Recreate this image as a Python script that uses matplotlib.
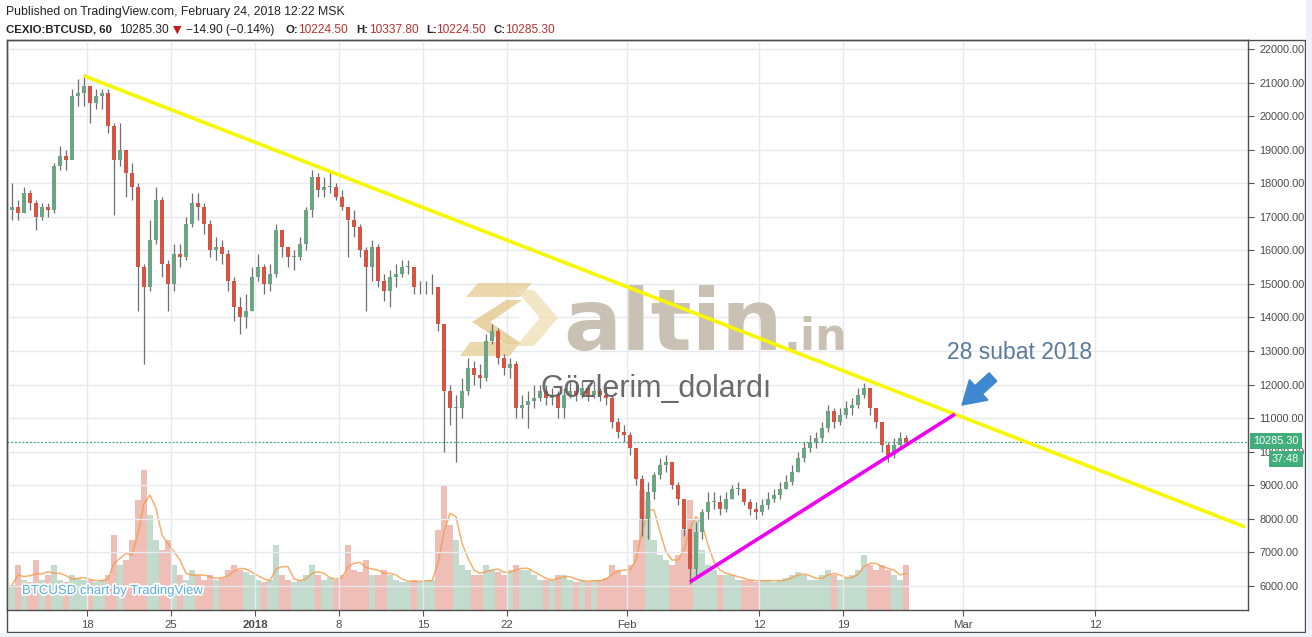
import numpy as np
import pandas as pd
import matplotlib
matplotlib.use("Agg")
import matplotlib.pyplot as plt
import matplotlib.dates as mdates
import matplotlib.patheffects as pe
from matplotlib.patches import Rectangle, Polygon

plt.rcParams['font.family'] = ['Liberation Sans', 'DejaVu Sans']

# 12h candles, first candle starts 2017-12-11 12:00
first_open = 17200
closes = [17300, 17100, 17700, 17400, 17000, 17300, 17200, 18500, 18800, 18700,
          20600, 20700, 20900, 20400, 20600, 20700, 19700, 18700, 19000, 18300,
          17900, 15500, 14900, 16300, 17500, 15600, 15000, 15900, 15800, 16800,
          17400, 17300, 16800, 16000, 16100, 15900, 15100, 14300, 14000, 14200,
          15200, 15500, 15000, 15300, 16600, 16100, 15800, 15800, 16200, 17200,
          18200, 17800, 17900, 17900, 17600, 17300, 16900, 16700, 16000, 15500,
          16100, 15100, 14800, 15200, 15300, 15500, 15500, 14900, 14900, 14900,
          14900, 13800, 11800, 11300, 11300, 11800, 12500, 12300, 12200, 13300,
          13600, 12800, 12500, 12600, 11300, 11400, 11500, 11600, 11800, 11600,
          11700, 11300, 11700, 11800, 11700, 11900, 11700, 11800, 11700, 11600,
          10900, 10600, 10500, 10100, 9200, 8000, 8800, 9300, 9600, 9700,
          9000, 8600, 7700, 6500, 7600, 8200, 8500, 8500, 8300, 8600,
          8900, 8900, 8500, 8300, 8200, 8400, 8600, 8700, 8900, 9100,
          9400, 9800, 10100, 10300, 10400, 10700, 11200, 10900, 11100, 11300,
          11400, 11700, 11900, 11300, 10900, 10200, 9900, 10200, 10400, 10285.3]
highs = [18000, 17500, 17900, 17800, 17500, 17400, 17400, 18600, 19100, 19000,
         20800, 21100, 21250, 20900, 20800, 20800, 20800, 19800, 19800, 18900,
         18600, 18000, 15600, 16900, 17900, 17600, 15700, 16200, 16200, 17000,
         17700, 17700, 17400, 16900, 16400, 16300, 16000, 15200, 14600, 14700,
         15500, 15900, 15600, 15600, 16800, 16600, 16100, 16000, 16400, 17300,
         18400, 18300, 18200, 18400, 18000, 17800, 17300, 17200, 16800, 16100,
         16300, 16200, 15300, 15400, 15600, 15700, 15700, 15500, 15100, 15100,
         15300, 14900, 13800, 12000, 11700, 12200, 12800, 12700, 12600, 13500,
         13800, 13700, 12900, 12800, 12700, 11700, 11800, 12000, 12000, 12000,
         11900, 11800, 11900, 12100, 12000, 12100, 12000, 12100, 11900, 11900,
         11700, 11000, 10800, 10600, 10100, 9300, 9100, 9400, 9800, 9900,
         9700, 9100, 8600, 7700, 7900, 8300, 8800, 8800, 8700, 8800,
         9000, 9100, 8900, 8600, 8500, 8600, 8800, 8900, 9100, 9300,
         9600, 10000, 10300, 10500, 10600, 10900, 11400, 11300, 11300, 11500,
         11600, 11900, 12050, 11900, 11300, 10900, 10300, 10400, 10600, 10500]
lows = [16900, 16900, 17100, 17200, 16600, 16900, 17000, 17100, 18400, 18400,
        18800, 20300, 20300, 19800, 20200, 20200, 19500, 17050, 18500, 17600,
        17500, 14200, 12600, 14800, 16200, 15200, 14200, 14800, 15500, 15700,
        16700, 16900, 16500, 15800, 15700, 15600, 14800, 13900, 13500, 13700,
        14200, 15100, 14700, 14800, 15200, 15800, 15500, 15400, 15700, 16000,
        17000, 17600, 17600, 17700, 17500, 17200, 15800, 16400, 15800, 14200,
        15100, 14900, 14500, 14300, 14900, 15200, 15300, 14700, 14700, 14700,
        14700, 13600, 10000, 10800, 9700, 11000, 11700, 12000, 11900, 12100,
        13200, 12600, 12300, 12200, 11000, 11000, 10700, 11300, 11500, 11400,
        11400, 11000, 11000, 11600, 11500, 11600, 11500, 11600, 11500, 11400,
        10700, 10400, 10300, 9900, 9000, 7500, 7400, 8600, 9200, 9400,
        8900, 8400, 7500, 6050, 6200, 7400, 8000, 8300, 8100, 8200,
        8600, 8700, 8400, 8100, 8000, 8100, 8300, 8500, 8600, 8900,
        9000, 9400, 9700, 10000, 10100, 10300, 10600, 10700, 10800, 11000,
        11100, 11300, 11600, 11100, 10700, 10000, 9700, 9800, 10100, 10200]
volumes = [25, 45, 30, 28, 50, 30, 35, 45, 30, 28,
           35, 32, 30, 30, 28, 30, 35, 75, 45, 50,
           70, 110, 140, 95, 70, 60, 70, 45, 35, 30,
           40, 35, 30, 35, 30, 32, 40, 45, 40, 38,
           35, 30, 28, 30, 65, 35, 30, 28, 30, 35,
           45, 35, 30, 32, 30, 35, 65, 40, 38, 50,
           35, 35, 40, 35, 30, 28, 28, 30, 28, 30,
           30, 80, 125, 85, 70, 45, 40, 35, 35, 45,
           40, 38, 35, 40, 45, 40, 40, 35, 30, 30,
           30, 35, 35, 30, 28, 30, 28, 30, 30, 32,
           45, 40, 35, 45, 70, 120, 110, 70, 55, 50,
           45, 55, 80, 110, 90, 60, 45, 40, 35, 35,
           35, 30, 30, 30, 28, 30, 30, 28, 30, 32,
           35, 38, 35, 30, 30, 35, 40, 35, 30, 32,
           35, 40, 55, 45, 40, 45, 40, 35, 30, 45]

last_price = 10285.3
tick_dates = ['2017-12-18', '2017-12-25', '2018-01-01', '2018-01-08', '2018-01-15',
              '2018-01-22', '2018-02-01', '2018-02-12', '2018-02-19', '2018-03-01', '2018-03-12']
tick_labels = ['18', '25', '2018', '8', '15', '22', 'Feb', '12', '19', 'Mar', '12']
price_ticks = list(range(6000, 22001, 1000))

# drawn trend lines (date, price)
yellow_dates = ['2017-12-17 18:00', '2018-03-24 12:00']
yellow_prices = [21200, 7760]
magenta_dates = ['2018-02-06 06:00', '2018-02-28 08:00']
magenta_prices = [6120, 11120]

W, H = 1312, 637
up_col, down_col, wick_col = '#6ba583', '#d75442', '#6f6f72'

def fx(x):
    return x / W

def fy(y):
    return 1 - y / H

fig = plt.figure(figsize=(W / 100, H / 100), dpi=100, facecolor='white')
ax = fig.add_axes([fx(7), fy(610), (1248 - 7) / W, (610 - 40) / H])
axv = ax.twinx()

times = pd.date_range('2017-12-11 12:00', periods=len(closes), freq='12h') + pd.Timedelta(hours=6)
x = mdates.date2num(times.to_pydatetime())
opens = [first_open] + closes[:-1]
o = np.array(opens, dtype=float)
c = np.array(closes, dtype=float)
colors = [up_col if cc >= oo else down_col for oo, cc in zip(o, c)]

# volume
vol_colors = [(0.42, 0.65, 0.51, 0.4) if cc >= oo else (0.84, 0.33, 0.26, 0.38) for oo, cc in zip(o, c)]
axv.bar(x, volumes, width=0.44, color=vol_colors, linewidth=0)
vma = pd.Series(volumes).rolling(3, min_periods=1).mean()
axv.plot(x, vma, color='#f39c4a', lw=1.1, alpha=0.8)
axv.set_ylim(0, 570)
axv.axis('off')

ax.set_zorder(axv.get_zorder() + 1)
ax.patch.set_visible(False)

# candles
ax.vlines(x, lows, highs, color=wick_col, lw=0.9, zorder=3)
body = np.where(np.abs(c - o) < 20, 20, c - o)
ax.bar(x, body, bottom=o, width=0.3, color=colors, linewidth=0, zorder=4)

# trend lines
ax.plot(mdates.date2num(pd.to_datetime(yellow_dates).to_pydatetime()), yellow_prices,
        color='#f7f700', lw=2.6, zorder=5, solid_capstyle='butt')
ax.plot(mdates.date2num(pd.to_datetime(magenta_dates).to_pydatetime()), magenta_prices,
        color='#f000f0', lw=2.6, zorder=5, solid_capstyle='butt')
ax.axhline(last_price, color='#3fa97a', lw=0.9, ls=(0, (1.5, 1.5)), zorder=2)

ax.set_xlim(mdates.date2num(pd.Timestamp('2017-12-11 08:00')),
            mdates.date2num(pd.Timestamp('2018-03-24 18:00')))
ax.set_ylim(5284, 22268)

ax.yaxis.tick_right()
ax.set_yticks(price_ticks)
ax.set_yticklabels(['%.2f' % v for v in price_ticks])
ax.set_xticks(mdates.date2num(pd.to_datetime(tick_dates).to_pydatetime()))
ax.set_xticklabels(tick_labels)
ax.get_xticklabels()[2].set_fontweight('bold')
ax.tick_params(axis='y', right=True, left=False, length=4, color='#555555',
               labelsize=7.8, labelcolor='#4a4a4a', pad=4)
ax.tick_params(axis='x', length=4, color='#555555', labelsize=8.2, labelcolor='#4a4a4a', pad=3)
ax.grid(True, color='#e6e9ee', lw=1)
ax.set_axisbelow(True)
for s in ax.spines.values():
    s.set_color('#4d4d4d')
    s.set_linewidth(1)

# outer frame and grey margins
fig.add_artist(Rectangle((fx(7), fy(632)), (1305 - 7) / W, (632 - 40) / H, transform=fig.transFigure,
                         fill=False, ec='#4d4d4d', lw=1))
fig.add_artist(Rectangle((fx(1306), 0), 1, 1, transform=fig.transFigure, fc='#eef1f5', ec='none'))
fig.add_artist(Rectangle((0, 0), 1, fy(633), transform=fig.transFigure, fc='#eef1f5', ec='none'))

# watermark logo
logo_dark = [(478, 283), (532, 283), (520, 297), (466, 297)]
logo_left = [(506, 300), (522, 300), (490, 322), (522, 344), (506, 344), (472, 322)]
logo_right = [(516, 290), (534, 290), (558, 318), (534, 346), (516, 346), (540, 318)]
logo_bottom = [(470, 342), (520, 342), (510, 356), (460, 356)]
for pts, col in [(logo_dark, '#e6cf98'), (logo_left, '#e2c88c'),
                 (logo_right, '#f0e0b8'), (logo_bottom, '#e6cf98')]:
    ax.add_patch(Polygon([(fx(a), fy(b)) for a, b in pts], closed=True, transform=fig.transFigure,
                         fc=col, ec='none', alpha=0.8, zorder=1))
ax.add_patch(Polygon([(fx(a), fy(b)) for a, b in [(528, 310), (538, 318), (528, 326), (518, 318)]],
                     closed=True, transform=fig.transFigure, fc='white', ec='none', zorder=1.1))
ax.text(fx(563), fy(350), 'altin', transform=fig.transFigure, fontsize=62, fontweight='bold',
        family='DejaVu Sans', color='#c9c2b4', va='baseline', ha='left', zorder=1)
ax.text(fx(784), fy(350), '.in', transform=fig.transFigure, fontsize=32, fontweight='bold',
        family='DejaVu Sans', color='#c9c2b4', va='baseline', ha='left', zorder=1)

ax.text(fx(540), fy(397), 'Gözlerim_dolardı', transform=fig.transFigure, fontsize=22,
        color='#5a5a5a', alpha=0.9, va='baseline', ha='left', zorder=6)
fig.text(fx(947), fy(359), '28 subat 2018', fontsize=16.5, color='#5b7a99', va='baseline', ha='left')
ax.annotate('', xy=(962, H - 405), xytext=(993, H - 377), xycoords='figure pixels',
            textcoords='figure pixels', zorder=7,
            arrowprops=dict(arrowstyle='simple,head_width=1.1,head_length=0.9,tail_width=0.45',
                            color='#3f88d0', mutation_scale=18, shrinkA=0, shrinkB=0))

ax.text(fx(22), fy(594), 'BTCUSD chart by TradingView', transform=fig.transFigure, fontsize=9.5,
        color='#5aaee0', va='baseline', ha='left', zorder=8,
        path_effects=[pe.withStroke(linewidth=2.5, foreground='white')])

# price labels on the axis
fig.text(fx(1253), fy(441), '10285.30', fontsize=7.8, color='white', va='center', ha='left',
         bbox=dict(boxstyle='square,pad=0.3', fc='#3fae7a', ec='none'))
fig.text(fx(1272), fy(459), '37:48', fontsize=7.8, color='white', va='center', ha='left',
         bbox=dict(boxstyle='square,pad=0.3', fc='#3fae7a', ec='none'))

# header
fig.text(fx(6), fy(12), 'Published on TradingView.com, February 24, 2018 12:22 MSK',
         fontsize=8.8, color='#222222', va='center', ha='left')
red = '#b8312f'
parts = [(6, 'CEXIO:BTCUSD, 60', '#222222', 'bold'), (119, '10285.30', '#222222', 'normal'),
         (186, '\u221214.90 (\u22120.14%)', '#222222', 'normal'), (285, 'O:', '#222222', 'bold'),
         (298, '10224.50', red, 'normal'), (356, 'H:', '#222222', 'bold'),
         (369, '10337.80', red, 'normal'), (426, 'L:', '#222222', 'bold'),
         (436, '10224.50', red, 'normal'), (494, 'C:', '#222222', 'bold'),
         (505, '10285.30', red, 'normal')]
for px_, s, col, fw in parts:
    fig.text(fx(px_), fy(30), s, fontsize=8.2 if fw == 'bold' else 8.6, color=col, fontweight=fw,
             va='center', ha='left')
fig.text(fx(173), fy(30), '\u25bc', fontsize=8, color='#c0201c', va='center', ha='left',
         family='DejaVu Sans')

fig.savefig('out.png', dpi=100, facecolor=fig.get_facecolor())
